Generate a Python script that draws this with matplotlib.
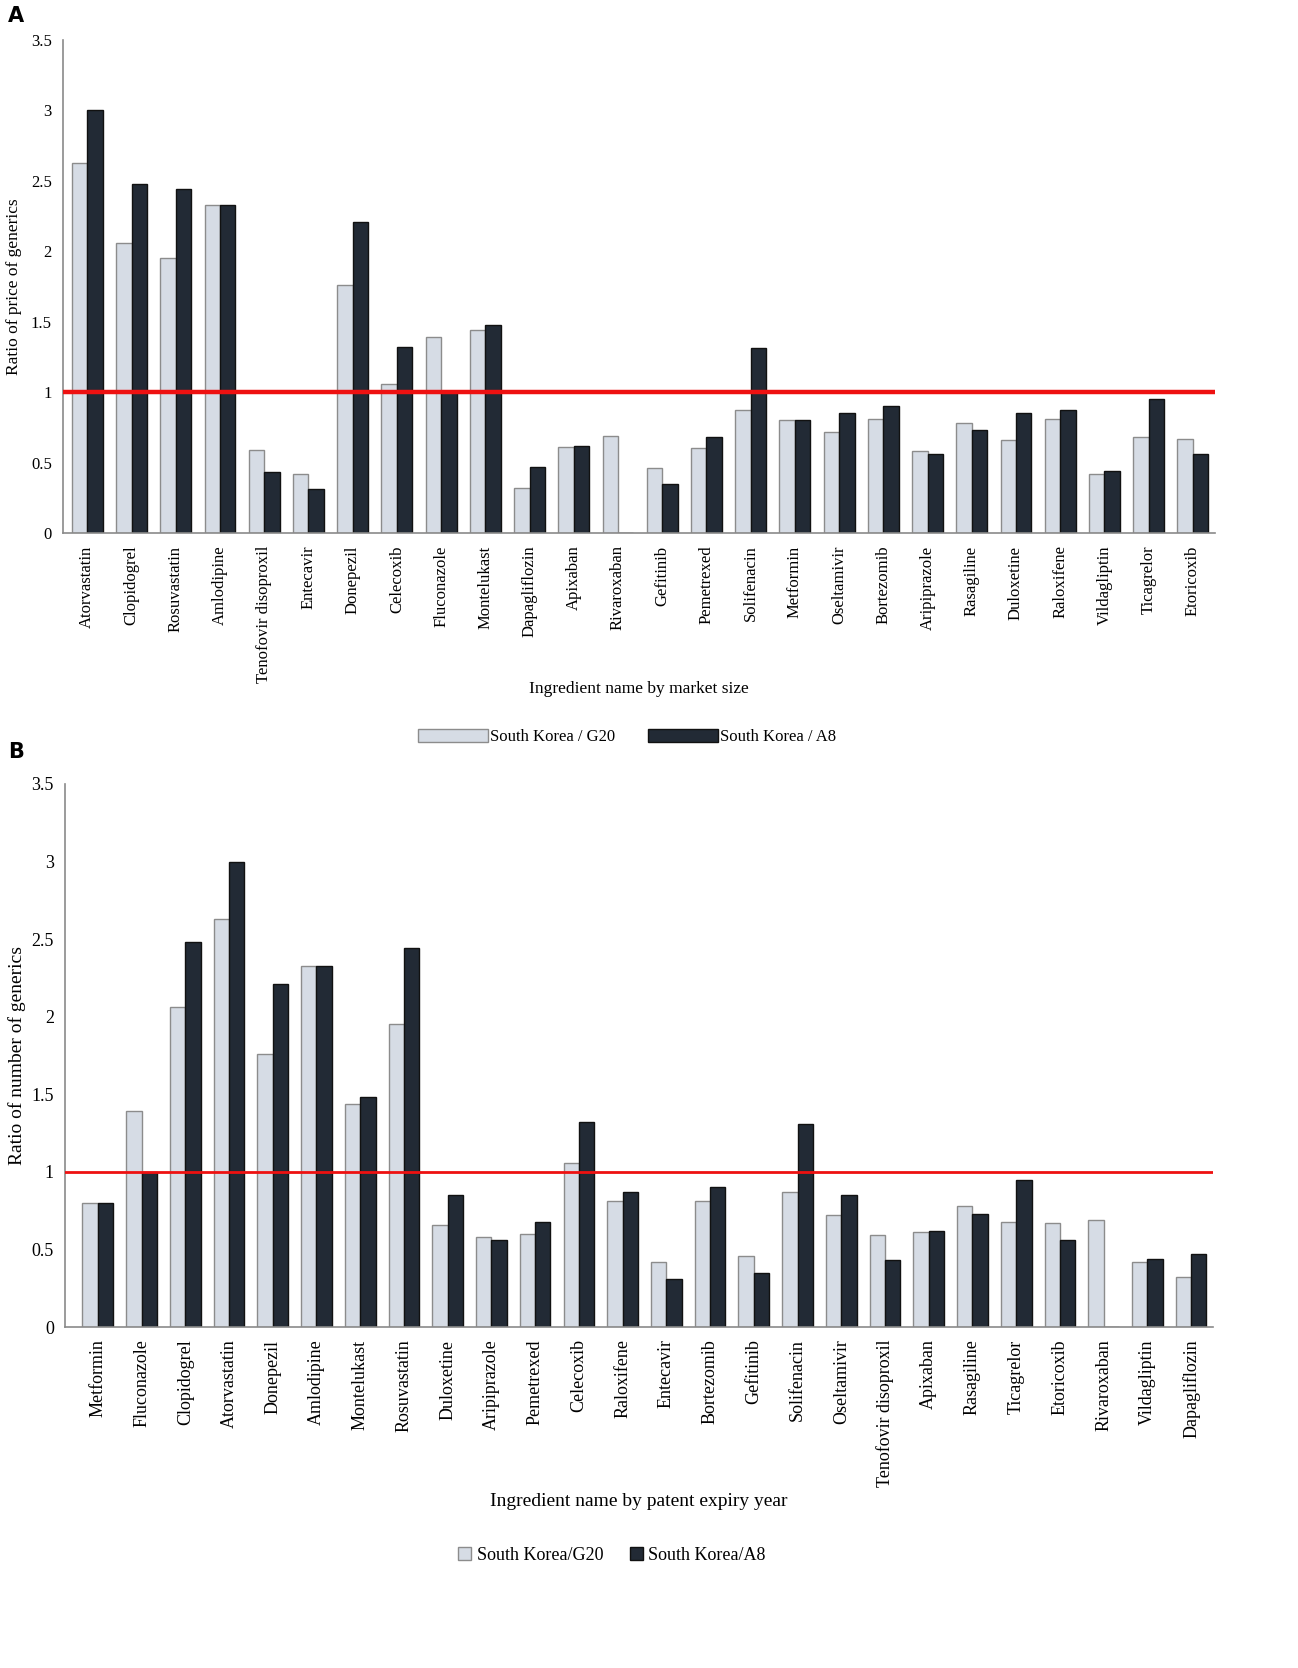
import matplotlib
matplotlib.use("Agg")
import matplotlib.pyplot as plt
import numpy as np
from matplotlib.patches import Patch

plt.rcParams['font.family'] = ['Liberation Serif', 'DejaVu Serif']

# Values per ingredient (ratio South Korea / G20 and South Korea / A8)
ingredients = ["Atorvastatin", "Clopidogrel", "Rosuvastatin", "Amlodipine",
               "Tenofovir disoproxil", "Entecavir", "Donepezil", "Celecoxib",
               "Fluconazole", "Montelukast", "Dapagliflozin", "Apixaban",
               "Rivaroxaban", "Gefitinib", "Pemetrexed", "Solifenacin",
               "Metformin", "Oseltamivir", "Bortezomib", "Aripiprazole",
               "Rasagiline", "Duloxetine", "Raloxifene", "Vildagliptin",
               "Ticagrelor", "Etoricoxib"]
g20_ratio = [2.63, 2.06, 1.95, 2.33, 0.59, 0.42, 1.76, 1.06, 1.39, 1.44,
             0.32, 0.61, 0.69, 0.46, 0.60, 0.87, 0.80, 0.72, 0.81, 0.58,
             0.78, 0.66, 0.81, 0.42, 0.68, 0.67]
a8_ratio = [3.00, 2.48, 2.44, 2.33, 0.43, 0.31, 2.21, 1.32, 1.00, 1.48,
            0.47, 0.62, 0.00, 0.35, 0.68, 1.31, 0.80, 0.85, 0.90, 0.56,
            0.73, 0.85, 0.87, 0.44, 0.95, 0.56]

# Order in panel A (by market size) and panel B (by patent expiry year)
order_market = ingredients[:]
order_patent = ["Metformin", "Fluconazole", "Clopidogrel", "Atorvastatin",
                "Donepezil", "Amlodipine", "Montelukast", "Rosuvastatin",
                "Duloxetine", "Aripiprazole", "Pemetrexed", "Celecoxib",
                "Raloxifene", "Entecavir", "Bortezomib", "Gefitinib",
                "Solifenacin", "Oseltamivir", "Tenofovir disoproxil", "Apixaban",
                "Rasagiline", "Ticagrelor", "Etoricoxib", "Rivaroxaban",
                "Vildagliptin", "Dapagliflozin"]

yticks = [0, 0.5, 1, 1.5, 2, 2.5, 3, 3.5]
ytick_labels = ["0", "0.5", "1", "1.5", "2", "2.5", "3", "3.5"]
reference_level = 1.0

light = "#d6dce5"
light_edge = "#8c8c8c"
dark = "#222a35"
dark_edge = "#111111"
axis_grey = "#8a8a8a"
red = "#ee1111"

W, H = 1298, 1668
fig = plt.figure(figsize=(W / 100, H / 100), dpi=100)


def panel(rect, order, ylabel, xlabel, tick_fs, lab_fs, red_lw, xlim, ylab_x, xlab_y):
    ax = fig.add_axes(rect)
    idx = [ingredients.index(n) for n in order]
    g = [g20_ratio[i] for i in idx]
    a = [a8_ratio[i] for i in idx]
    x = np.arange(len(order))
    w = 0.35
    ax.bar(x - w / 2, g, w, color=light, edgecolor=light_edge, linewidth=1.0, zorder=2)
    ax.bar(x + w / 2, a, w, color=dark, edgecolor=dark_edge, linewidth=1.0, zorder=2)
    ax.axhline(reference_level, color=red, lw=red_lw, zorder=3)
    ax.set_xlim(*xlim)
    ax.set_ylim(0, 3.5)
    ax.set_yticks(yticks)
    ax.set_yticklabels(ytick_labels, fontsize=tick_fs)
    ax.set_xticks(x)
    ax.set_xticklabels(order, rotation=90, fontsize=tick_fs)
    ax.tick_params(axis='both', length=0)
    ax.tick_params(axis='y', pad=8)
    ax.tick_params(axis='x', pad=9)
    for s in ["top", "right"]:
        ax.spines[s].set_visible(False)
    for s in ["left", "bottom"]:
        ax.spines[s].set_color(axis_grey)
        ax.spines[s].set_linewidth(1.2)
    ax.set_ylabel(ylabel, fontsize=lab_fs)
    ax.yaxis.set_label_coords(ylab_x, 0.5)
    ax.set_xlabel(xlabel, fontsize=lab_fs)
    ax.xaxis.set_label_coords(0.5, xlab_y)
    return ax


axA = panel([63 / W, 1 - 533 / H, (1215 - 63) / W, (533 - 40) / H],
            order_market, "Ratio of price of generics", "Ingredient name by market size",
            12, 12.5, 3.2, (-0.55, 25.5), -0.036, -0.30)
axB = panel([65 / W, 1 - 1327 / H, (1213 - 65) / W, (1327 - 784) / H],
            order_patent, "Ratio of number of generics", "Ingredient name by patent expiry year",
            13, 14, 2.0, (-0.75, 25.5), -0.034, -0.305)

# Legends
hA = [Patch(facecolor=light, edgecolor=light_edge, label="South Korea / G20"),
      Patch(facecolor=dark, edgecolor=dark_edge, label="South Korea / A8")]
fig.legend(handles=hA, loc="center", bbox_to_anchor=(627 / W, 1 - 737 / H), ncol=2,
           frameon=False, fontsize=12, handlelength=4.2, handleheight=0.8,
           handletextpad=0.1, columnspacing=2.0)

hB = [Patch(facecolor=light, edgecolor=light_edge, label="South Korea/G20"),
      Patch(facecolor=dark, edgecolor=dark_edge, label="South Korea/A8")]
fig.legend(handles=hB, loc="center", bbox_to_anchor=(612 / W, 1 - 1555 / H), ncol=2,
           frameon=False, fontsize=13, handlelength=0.7, handleheight=0.7,
           handletextpad=0.3, columnspacing=1.5)

fig.text(8 / W, 1 - 16 / H, "A", fontsize=15, fontweight="bold", family="DejaVu Sans",
         ha="left", va="center")
fig.text(8 / W, 1 - 752 / H, "B", fontsize=15, fontweight="bold", family="DejaVu Sans",
         ha="left", va="center")

fig.savefig("out.png", dpi=100)
